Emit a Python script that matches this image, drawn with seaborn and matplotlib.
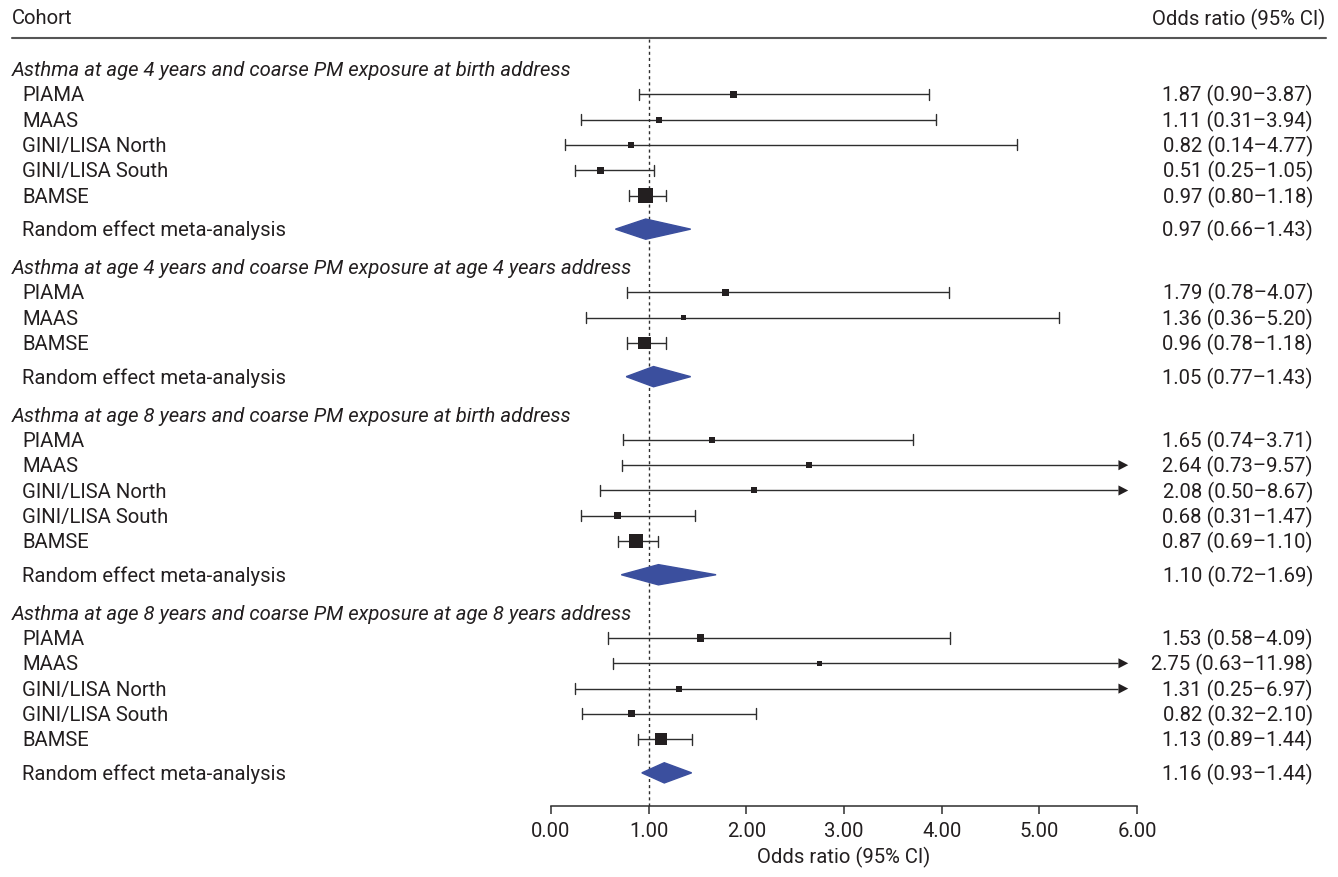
import matplotlib
matplotlib.use("Agg")
import matplotlib.pyplot as plt
import seaborn as sns
import pandas as pd
import numpy as np
from matplotlib.lines import Line2D
from matplotlib.transforms import blended_transform_factory

# ---------------- data ----------------
group_titles = [
    "Asthma at age 4 years and coarse PM exposure at birth address",
    "Asthma at age 4 years and coarse PM exposure at age 4 years address",
    "Asthma at age 8 years and coarse PM exposure at birth address",
    "Asthma at age 8 years and coarse PM exposure at age 8 years address",
]
cohorts_g1 = ["PIAMA", "MAAS", "GINI/LISA North", "GINI/LISA South", "BAMSE"]
cohorts_g2 = ["PIAMA", "MAAS", "BAMSE"]
cohorts_g3 = ["PIAMA", "MAAS", "GINI/LISA North", "GINI/LISA South", "BAMSE"]
cohorts_g4 = ["PIAMA", "MAAS", "GINI/LISA North", "GINI/LISA South", "BAMSE"]

or_g1 = [1.87, 1.11, 0.82, 0.51, 0.97]
lo_g1 = [0.90, 0.31, 0.14, 0.25, 0.80]
hi_g1 = [3.87, 3.94, 4.77, 1.05, 1.18]
or_g2 = [1.79, 1.36, 0.96]
lo_g2 = [0.78, 0.36, 0.78]
hi_g2 = [4.07, 5.20, 1.18]
or_g3 = [1.65, 2.64, 2.08, 0.68, 0.87]
lo_g3 = [0.74, 0.73, 0.50, 0.31, 0.69]
hi_g3 = [3.71, 9.57, 8.67, 1.47, 1.10]
or_g4 = [1.53, 2.75, 1.31, 0.82, 1.13]
lo_g4 = [0.58, 0.63, 0.25, 0.32, 0.89]
hi_g4 = [4.09, 11.98, 6.97, 2.10, 1.44]

# relative study weights (largest = 100)
w_g1 = [22, 16, 16, 22, 100]
w_g2 = [22, 11, 75]
w_g3 = [16, 16, 16, 22, 87]
w_g4 = [22, 11, 16, 22, 64]

re_or = [0.97, 1.05, 1.10, 1.16]
re_lo = [0.66, 0.77, 0.72, 0.93]
re_hi = [1.43, 1.43, 1.69, 1.44]
re_label = "Random effect meta-analysis"

xticks = [0, 1, 2, 3, 4, 5, 6]
xtick_labels = ["0.00", "1.00", "2.00", "3.00", "4.00", "5.00", "6.00"]
header_left = "Cohort"
header_right = "Odds ratio (95% CI)"
xlabel = "Odds ratio (95% CI)"

# ---------------- style ----------------
sns.set_theme(style="white")
plt.rcParams["font.family"] = ["Roboto", "DejaVu Sans"]
TXT = "#231f20"
LINE = "#2e2e2e"
BLUE = "#3b4f9e"
FS = 14.6

W, H = 1338, 877
fig = plt.figure(figsize=(W / 100, H / 100), dpi=100)
ax_left_px, ax_right_px = 551, 1137
ax_top_px, ax_bot_px = 38, 806
ax = fig.add_axes([ax_left_px / W, 1 - ax_bot_px / H,
                   (ax_right_px - ax_left_px) / W, (ax_bot_px - ax_top_px) / H])

# ---------------- layout of rows ----------------
groups = [
    (cohorts_g1, or_g1, lo_g1, hi_g1, w_g1),
    (cohorts_g2, or_g2, lo_g2, hi_g2, w_g2),
    (cohorts_g3, or_g3, lo_g3, hi_g3, w_g3),
    (cohorts_g4, or_g4, lo_g4, hi_g4, w_g4),
]
rows = []
title_rows = []
re_rows = []
y = 0.0
for gi, (names, ors, los, his, ws) in enumerate(groups):
    if gi > 0:
        y += 1.5
    title_rows.append((group_titles[gi], y))
    for n, o, l, h, w in zip(names, ors, los, his, ws):
        y += 1.0
        rows.append(dict(name=n, orr=o, lo=l, hi=h, w=w, y=y))
    y += 1.33
    re_rows.append(dict(orr=re_or[gi], lo=re_lo[gi], hi=re_hi[gi], y=y))

df = pd.DataFrame(rows)
px_per_unit = 25.3
y_top = -(69 - ax_top_px) / px_per_unit
y_bot = y_top + (ax_bot_px - ax_top_px) / px_per_unit
XMAX = 6.0
ax.set_xlim(0, XMAX)
ax.set_ylim(y_bot, y_top)

# reference line
ax.axvline(1.0, color=LINE, lw=1.0, ls=(0, (2.2, 2.2)), zorder=1)

# CI lines, caps, arrows
cap = 0.22
arrow_tip = 5.91
arrow_len = 0.10
arrow_half = 0.2
for r in rows:
    right = arrow_tip - arrow_len if r["hi"] > XMAX else r["hi"]
    ax.plot([r["lo"], right], [r["y"], r["y"]], color=LINE, lw=1.0, zorder=2,
            solid_capstyle="butt")
    ax.plot([r["lo"], r["lo"]], [r["y"] - cap, r["y"] + cap], color=LINE, lw=1.0, zorder=2)
    if r["hi"] <= XMAX:
        ax.plot([r["hi"], r["hi"]], [r["y"] - cap, r["y"] + cap], color=LINE, lw=1.0, zorder=2)
    else:
        ax.fill([arrow_tip - arrow_len, arrow_tip, arrow_tip - arrow_len],
                [r["y"] - arrow_half, r["y"], r["y"] + arrow_half],
                color=TXT, lw=0, zorder=3)

# point estimates (squares sized by weight)
sns.scatterplot(data=df, x="orr", y="y", size="w", sizes=(0, 116.6), size_norm=(0, 100),
                marker="s", color=TXT, linewidth=0, legend=False, ax=ax, zorder=4)

# diamonds
dh = 0.40
for r in re_rows:
    ax.fill([r["lo"], r["orr"], r["hi"], r["orr"]],
            [r["y"], r["y"] - dh, r["y"], r["y"] + dh],
            facecolor=BLUE, edgecolor=BLUE, lw=1.0, zorder=4)

# axes styling
for s in ["top", "right", "left"]:
    ax.spines[s].set_visible(False)
ax.spines["bottom"].set_color(LINE)
ax.spines["bottom"].set_linewidth(1.1)
ax.set_yticks([])
ax.set_ylabel("")
ax.set_xticks(xticks)
ax.set_xticklabels(xtick_labels)
ax.tick_params(axis="x", direction="out", length=5.8, width=1.1, color=LINE,
               labelsize=FS, labelcolor=TXT, pad=5.4, bottom=True)
ax.set_xlabel(xlabel, fontsize=FS, color=TXT, labelpad=4.5)
ax.grid(False)
ax.set_facecolor("none")

# ---------------- text columns ----------------
tr = blended_transform_factory(fig.transFigure, ax.transData)
x_title = 12 / W
x_name = 22 / W
x_val = 1313 / W
dy = 0.06  # small optical offset of text centre
for t, yy in title_rows:
    ax.text(x_title, yy + dy, t, transform=tr, ha="left", va="center", fontsize=FS,
            style="italic", color=TXT, clip_on=False)
for r in rows:
    ax.text(x_name, r["y"] + dy, r["name"], transform=tr, ha="left", va="center",
            fontsize=FS, color=TXT, clip_on=False)
    ax.text(x_val, r["y"] + dy, f"{r['orr']:.2f} ({r['lo']:.2f}\u2013{r['hi']:.2f})",
            transform=tr, ha="right", va="center", fontsize=FS, color=TXT, clip_on=False)
for r in re_rows:
    ax.text(x_name, r["y"] + dy, re_label, transform=tr, ha="left", va="center",
            fontsize=FS, color=TXT, clip_on=False)
    ax.text(x_val, r["y"] + dy, f"{r['orr']:.2f} ({r['lo']:.2f}\u2013{r['hi']:.2f})",
            transform=tr, ha="right", va="center", fontsize=FS, color=TXT, clip_on=False)

# header
fig.text(12 / W, 1 - 19 / H, header_left, ha="left", va="center", fontsize=FS, color=TXT)
fig.text(1325 / W, 1 - 19 / H, header_right, ha="right", va="center", fontsize=FS, color=TXT)
fig.add_artist(Line2D([12 / W, 1326 / W], [1 - 38 / H, 1 - 38 / H],
                      transform=fig.transFigure, color="#555555", lw=1.5))

fig.savefig("out.png", dpi=100)
